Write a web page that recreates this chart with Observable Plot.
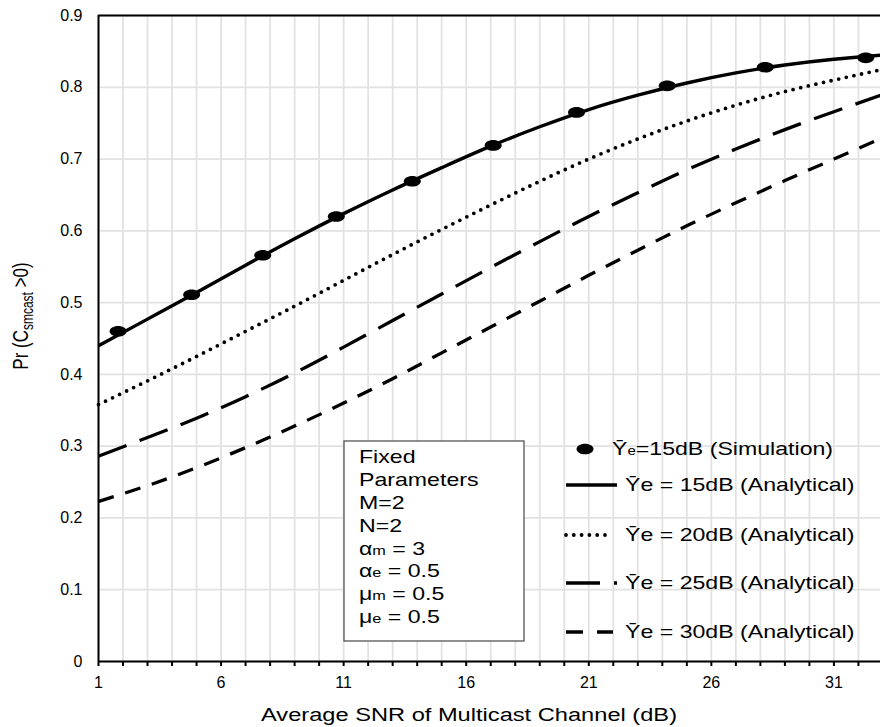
<!DOCTYPE html>
<html><head><meta charset="utf-8">
<script src="https://cdn.jsdelivr.net/npm/d3@7"></script>
<script src="https://cdn.jsdelivr.net/npm/@observablehq/plot@0.6"></script>
<style>
html,body{margin:0;padding:0;background:#fff;overflow:hidden} svg{display:block}
</style>
</head><body><div id="chart"></div>
<script>
// Average SNR of multicast channel (dB) at which analytical curves are read
const snr = [1, 3, 5, 7, 9, 11, 13, 15, 17, 19, 21, 23, 25, 27, 29, 31, 33];
// Pr(C_smcast > 0), analytical, for each eavesdropper SNR
const pr15 = [0.440, 0.477, 0.514, 0.552, 0.589, 0.624, 0.657, 0.688, 0.718, 0.745, 0.769, 0.789, 0.806, 0.820, 0.831, 0.839, 0.845];
const pr20 = [0.358, 0.391, 0.425, 0.460, 0.495, 0.531, 0.567, 0.602, 0.636, 0.669, 0.700, 0.728, 0.753, 0.775, 0.794, 0.810, 0.825];
const pr25 = [0.286, 0.312, 0.339, 0.369, 0.402, 0.438, 0.475, 0.512, 0.549, 0.585, 0.620, 0.653, 0.685, 0.714, 0.741, 0.766, 0.790];
const pr30 = [0.223, 0.245, 0.270, 0.298, 0.328, 0.360, 0.394, 0.430, 0.466, 0.502, 0.538, 0.573, 0.607, 0.639, 0.670, 0.700, 0.730];
// Simulation points (15 dB)
const simSnr = [1.8, 4.8, 7.7, 10.7, 13.8, 17.1, 20.5, 24.2, 28.2, 32.3];
const simPr = [0.460, 0.511, 0.566, 0.620, 0.669, 0.719, 0.765, 0.802, 0.828, 0.841];
// ticks
const xTicks = d3.range(1, 33);
const xLabelTicks = [1, 6, 11, 16, 21, 26, 31];
const yTicks = [0, 0.1, 0.2, 0.3, 0.4, 0.5, 0.6, 0.7, 0.8, 0.9];
// legend / annotation texts
const legendLabels = ["15dB (Analytical)", "20dB (Analytical)", "25dB (Analytical)", "30dB (Analytical)"];
const simLabel = "=15dB (Simulation)";
const boxLines = [["Fixed"], ["Parameters"], ["M=2"], ["N=2"], ["α", "m", " = 3"], ["α", "e", " = 0.5"], ["μ", "m", " = 0.5"], ["μ", "e", " = 0.5"]];
const xTitle = "Average SNR of Multicast Channel (dB)";

const series = [
  {values: pr15, dash: null, width: 3.4, cap: "butt"},
  {values: pr20, dash: "0 7.8", width: 3.8, cap: "round"},
  {values: pr25, dash: "30 14", width: 3.3, cap: "butt"},
  {values: pr30, dash: "16 12", width: 3.3, cap: "butt"}
];

const ellipse = {draw(ctx) {
  const rx = 8.5, ry = 5.3, k = 0.5523;
  ctx.moveTo(rx, 0);
  ctx.bezierCurveTo(rx, ry * k, rx * k, ry, 0, ry);
  ctx.bezierCurveTo(-rx * k, ry, -rx, ry * k, -rx, 0);
  ctx.bezierCurveTo(-rx, -ry * k, -rx * k, -ry, 0, -ry);
  ctx.bezierCurveTo(rx * k, -ry, rx, -ry * k, rx, 0);
  ctx.closePath();
}};

const sim = simSnr.map((x, i) => ({x, y: simPr[i]}));

const lineMarks = series.map(s => Plot.line(snr.map((x, i) => ({x, y: s.values[i]})), {
  x: "x", y: "y", curve: "natural", stroke: "black", strokeWidth: s.width,
  strokeDasharray: s.dash, strokeLinecap: s.cap
}));

const chart = Plot.plot({
  width: 880, height: 727,
  marginLeft: 98, marginRight: 0, marginTop: 15, marginBottom: 66,
  style: {fontFamily: "'Liberation Sans', Arial, sans-serif", fontSize: "15px", color: "black", background: "white"},
  x: {domain: [1, 32.9], label: null},
  y: {domain: [0, 0.9], label: null},
  marks: [
    Plot.gridX(xTicks, {stroke: "#e2e2e2", strokeOpacity: 1, strokeWidth: 1.8}),
    Plot.gridY(yTicks, {stroke: "#e2e2e2", strokeOpacity: 1, strokeWidth: 1.8}),
    Plot.axisX(xTicks, {tickSize: 5, tickPadding: 10, strokeWidth: 2, fontSize: 15, label: null,
      tickFormat: d => xLabelTicks.includes(d) ? String(d) : ""}),
    Plot.axisY(yTicks, {tickSize: 0, tickPadding: 16, fontSize: 15.5, label: null,
      tickFormat: d => d === 0 ? "0" : d.toFixed(1)}),
    ...lineMarks,
    Plot.dot(sim, {x: "x", y: "y", symbol: ellipse, fill: "black", stroke: "none"}),
    Plot.ruleY([0], {stroke: "black", strokeWidth: 2}),
    Plot.ruleY([0.9], {stroke: "black", strokeWidth: 2}),
    Plot.ruleX([1], {stroke: "black", strokeWidth: 2})
  ]
});
document.getElementById("chart").appendChild(chart);

const svg = d3.select(chart);
// enlarge axis tick labels (all texts produced by the Plot axes)
svg.selectAll("text").each(function() {
  const t = d3.select(this);
  t.attr("font-size", null).style("font-size", "16px").style("font-family", "'Liberation Sans', Arial, sans-serif");
});
svg.selectAll("g").filter(function() { return (this.getAttribute("aria-label") || "").includes("tick label"); })
  .attr("font-size", "16px").style("font-size", "16px");

const g = svg.append("g").attr("font-family", "'Liberation Sans', Arial, sans-serif").attr("fill", "black");

function sText(x, y, sx, size, anchor) {
  return g.append("text").attr("transform", `translate(${x},${y}) scale(${sx},1)`)
    .attr("text-anchor", anchor).attr("dy", "0.35em").style("font-size", size + "px");
}

// Y title
const yl = g.append("text").attr("transform", "translate(20,316) rotate(-90) scale(1,1.3)")
  .attr("text-anchor", "middle").attr("dy", "0.35em").style("font-size", "17px");
yl.append("tspan").text("Pr (C");
yl.append("tspan").text("smcast").style("font-size", "12px").attr("dy", "4");
yl.append("tspan").text(" >0)").attr("dy", "-4");

// X title
sText(469, 714, 1.245, 19, "middle").text(xTitle);

// Parameter box
g.append("rect").attr("x", 344).attr("y", 441).attr("width", 180).attr("height", 200)
  .attr("fill", "white").attr("stroke", "#555").attr("stroke-width", 1.3);
boxLines.forEach((parts, i) => {
  const t = sText(359, 457 + i * 22.8, 1.25, 18.5, "start");
  if (parts.length === 1) t.text(parts[0]);
  else {
    t.append("tspan").text(parts[0]);
    t.append("tspan").text(parts[1]).style("font-size", "13px");
    t.append("tspan").text(parts[2]);
  }
});

// Legend
const lg = g.append("g");
const ep = d3.path(); ellipse.draw(ep);
lg.append("path").attr("d", ep.toString()).attr("transform", "translate(585,449)").attr("fill", "black");
const t0 = sText(612, 449, 1.25, 18.5, "start");
t0.append("tspan").text("Ȳ");
t0.append("tspan").text("e").style("font-size", "12px");
t0.append("tspan").text(simLabel);
const legY = [485, 535, 583, 632];
const legEnd = [617, 612, 617, 613];
series.forEach((s, i) => {
  lg.append("line").attr("x1", 566).attr("x2", legEnd[i]).attr("y1", legY[i]).attr("y2", legY[i])
    .attr("stroke", "black").attr("stroke-width", s.width)
    .attr("stroke-dasharray", i === 3 ? "17 14" : (i === 2 ? "34 14" : s.dash))
    .attr("stroke-linecap", s.cap);
  sText(625, legY[i], 1.25, 18.5, "start").text("Ȳe = " + legendLabels[i]);
});
</script>
</body></html>
